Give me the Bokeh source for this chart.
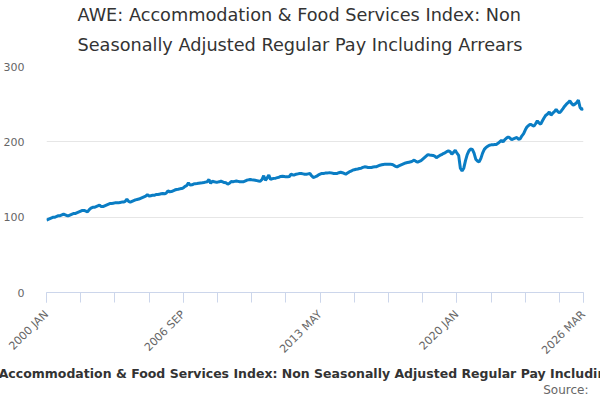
import math
from bokeh.plotting import figure
from bokeh.models import FixedTicker, Range1d, Title
from bokeh.embed import file_html
from bokeh.resources import INLINE

# Monthly index values, Jan 2000 .. Mar 2026
v2000 = [96, 97, 98, 99, 100, 100, 101, 102, 102, 103, 104, 103]
v2001 = [102, 102, 103, 104, 105, 105, 106, 107, 108, 109, 109, 108]
v2002 = [107, 110, 112, 113, 113, 114, 115, 116, 114, 114, 115, 116]
v2003 = [117, 118, 118, 118.5, 119, 119, 119, 119.5, 120, 120, 121, 124]
v2004 = [121, 120, 121, 122, 123, 123.5, 124, 125, 126, 127, 128, 130]
v2005 = [128, 128.5, 129, 129, 130, 130, 130.5, 131, 131.5, 131, 132, 135]
v2006 = [133.6, 134, 135, 136, 136.7, 137, 137.6, 138, 139, 141, 142, 145.6]
v2007 = [142.5, 143, 144, 144.5, 144.7, 145, 145.3, 145.6, 146, 146.5, 147, 150]
v2008 = [144.7, 148, 147, 146.5, 146.5, 147, 148, 147, 146, 145.6, 143.8, 145]
v2009 = [147.3, 147, 147.5, 148, 147.5, 147, 147, 147, 148, 149, 149.5, 150]
v2010 = [149.6, 149.5, 149, 148.5, 148, 147.8, 150, 155, 149, 152, 156, 150]
v2011 = [151, 151.5, 151.8, 152.5, 153, 154, 154.4, 154, 153.5, 153.5, 154, 157]
v2012 = [156, 156, 157, 157.5, 158, 158, 157.5, 157, 157, 157.5, 158, 155]
v2013 = [152.7, 153.5, 154.4, 156, 157, 158, 158, 158.5, 158.5, 158.8, 158.8, 158.5]
v2014 = [158, 158, 158, 159, 159.7, 159, 158, 157, 158.5, 160, 161, 162.4]
v2015 = [163, 163.5, 164, 164.6, 165, 166, 166.8, 166.5, 166, 165.9, 166, 166.5]
v2016 = [166.8, 167, 168, 169, 169.5, 170, 170.4, 170.4, 170.4, 170.4, 170, 169]
v2017 = [167.5, 166.8, 168, 169, 170, 171, 172, 172.5, 173, 173.5, 174.5, 175.7]
v2018 = [174, 173, 174, 175, 177, 179, 181, 183, 182.5, 182.3, 182, 181]
v2019 = [179, 180.5, 182, 183, 184.5, 185.5, 187, 188, 187, 183.6, 186, 189]
v2020 = [185, 182, 165, 161.5, 165, 175, 183, 188, 190.5, 190, 185, 177]
v2021 = [174.5, 173.5, 178, 185, 190, 192.5, 194, 195.5, 196, 196, 196.5, 196.5]
v2022 = [198, 200, 202, 200, 203, 205, 206.6, 205, 203, 204, 205, 205.8]
v2023 = [203.5, 204, 208, 211, 216, 220, 222, 223.5, 222, 220.8, 224, 227.9]
v2024 = [225, 223.5, 228, 232, 235.4, 237, 239.8, 235.4, 238, 240, 243, 240]
v2025 = [238.5, 241, 244, 247.3, 250, 252, 254.4, 251, 248.7, 250, 252, 255.3]
v2026 = [245.6, 243, 244]

values = (v2000 + v2001 + v2002 + v2003 + v2004 + v2005 + v2006 + v2007 + v2008
          + v2009 + v2010 + v2011 + v2012 + v2013 + v2014 + v2015 + v2016 + v2017
          + v2018 + v2019 + v2020 + v2021 + v2022 + v2023 + v2024 + v2025 + v2026)
months = list(range(len(values)))

label_positions = [0, 80, 160, 240, 314]
label_texts = ["2000 JAN", "2006 SEP", "2013 MAY", "2020 JAN", "2026 MAR"]
minor_positions = list(range(0, 301, 20)) + [314]
y_ticks = [0, 100, 200, 300]

title_line1 = "AWE: Accommodation & Food Services Index: Non"
title_line2 = "Seasonally Adjusted Regular Pay Including Arrears"
caption = "AWE: Accommodation & Food Services Index: Non Seasonally Adjusted Regular Pay Including Arrears"
source_text = "Source:"

FONT = "DejaVu Sans"

p = figure(width=600, height=400, output_backend="svg", toolbar_location=None,
           x_range=Range1d(0, len(values) - 1), y_range=Range1d(0, 300),
           min_border_left=46, min_border_right=17, min_border_top=66,
           min_border_bottom=108)

# outer title line (main title is drawn outermost)
p.title.text = title_line1
p.title.align = "left"
p.title.offset = 31
p.title.standoff = -7
p.title.text_font = FONT
p.title.text_font_size = "17.7px"
p.title.text_font_style = "normal"
p.title.text_color = "#333333"

# inner title line, next to the plot area
p.add_layout(Title(text=title_line2, align="left", offset=31, standoff=23,
                   text_font=FONT, text_font_size="17.7px", text_font_style="normal",
                   text_color="#333333"), "above")

p.outline_line_color = None
p.background_fill_color = "white"
p.border_fill_color = "white"

p.line(months, values, line_color="#0a7dc4", line_width=3)

# x axis
xa = p.xaxis[0]
xa.ticker = FixedTicker(ticks=label_positions, minor_ticks=minor_positions)
xa.major_label_overrides = {pos: txt for pos, txt in zip(label_positions, label_texts)}
xa.major_label_orientation = math.pi / 4
xa.major_label_text_font = FONT
xa.major_label_text_font_size = "11px"
xa.major_label_text_color = "#666666"
xa.axis_line_color = "#ccd6eb"
xa.major_tick_line_color = "#ccd6eb"
xa.minor_tick_line_color = "#ccd6eb"
xa.major_tick_out = 10
xa.major_tick_in = 0
xa.minor_tick_out = 10
xa.minor_tick_in = 0
xa.major_label_standoff = 10

# y axis
ya = p.yaxis[0]
ya.ticker = FixedTicker(ticks=y_ticks)
ya.axis_line_color = None
ya.major_tick_line_color = None
ya.minor_tick_line_color = None
ya.major_label_text_font = FONT
ya.major_label_text_font_size = "11px"
ya.major_label_text_color = "#666666"
ya.major_label_standoff = 16

p.xgrid.grid_line_color = None
p.ygrid.grid_line_color = "#e6e6e6"
p.ygrid.ticker = FixedTicker(ticks=y_ticks)

p.add_layout(Title(text=caption, align="center", standoff=-2,
                   text_font=FONT, text_font_size="12.5px", text_font_style="bold",
                   text_color="#333333"), "below")
p.add_layout(Title(text=source_text, align="right", offset=-5, standoff=2,
                   text_font=FONT, text_font_size="12px", text_font_style="normal",
                   text_color="#666666"), "below")

open("out.html", "w").write(file_html(p, INLINE))
